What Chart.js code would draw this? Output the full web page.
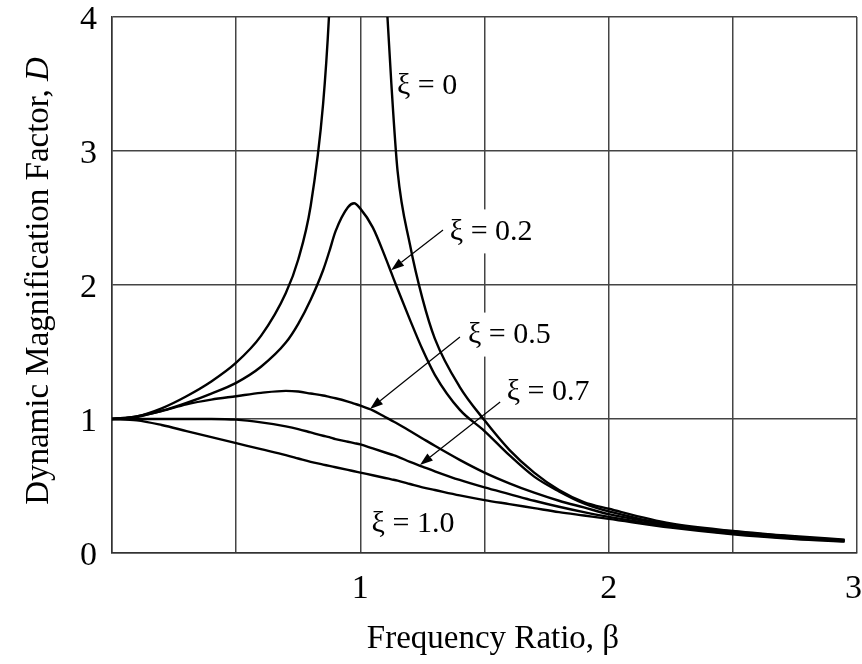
<!DOCTYPE html>
<html><head><meta charset="utf-8">
<script src="https://cdn.jsdelivr.net/npm/chart.js@4/dist/chart.umd.min.js"></script>
<style>html,body{margin:0;padding:0;background:#fff}#wrap{width:862px;height:664px;position:relative}</style>
</head><body><div id="wrap"><canvas id="c"></canvas></div>
<script>
// Frequency ratio beta (x values shared by all curves)
const beta = [0,0.1,0.2,0.3,0.4,0.5,0.6,0.7,0.75,0.8,0.85,0.875,0.9,0.95,0.975,1.0,1.05,1.1,1.125,1.15,1.2,1.25,1.3,1.4,1.5,1.6,1.7,1.8,1.9,2.0,2.25,2.5,2.75,2.95];
// Dynamic magnification factor D for each damping ratio
const xi0  = [1.0,1.02,1.08,1.17,1.28,1.42,1.62,1.94,2.19,2.59,3.35,4.05,5.2,null,null,null,null,4.3,3.5,2.85,2.30,1.90,1.60,1.24,0.99,0.77,0.60,0.47,0.38,0.33,0.22,0.165,0.125,0.10];
const xi02 = [1.0,1.015,1.06,1.12,1.19,1.27,1.39,1.57,1.71,1.89,2.11,2.25,2.40,2.58,2.61,2.57,2.43,2.21,2.09,1.97,1.74,1.52,1.33,1.07,0.91,0.73,0.57,0.46,0.37,0.31,0.21,0.16,0.12,0.095];
const xi05 = [1.0,1.02,1.06,1.11,1.145,1.17,1.195,1.21,1.205,1.19,1.175,1.165,1.155,1.13,1.115,1.10,1.065,1.015,0.99,0.965,0.91,0.855,0.80,0.695,0.60,0.52,0.45,0.39,0.34,0.29,0.21,0.155,0.12,0.093];
const xi07 = [1.0,1.0,1.0,1.0,1.0,0.995,0.975,0.945,0.925,0.90,0.875,0.865,0.85,0.83,0.82,0.81,0.78,0.75,0.735,0.72,0.68,0.645,0.61,0.545,0.49,0.44,0.39,0.345,0.305,0.27,0.20,0.145,0.11,0.09];
const xi10 = [1.0,0.99,0.955,0.91,0.865,0.82,0.775,0.73,0.705,0.68,0.66,0.65,0.64,0.62,0.61,0.60,0.58,0.56,0.55,0.54,0.515,0.49,0.47,0.43,0.395,0.365,0.335,0.305,0.28,0.255,0.19,0.14,0.105,0.085];
const seriesNames = ['ξ = 0','ξ = 0.2','ξ = 0.5','ξ = 0.7','ξ = 1.0'];
const seriesValues = [xi0, xi02, xi05, xi07, xi10];
const xTickLabels = [1, 2, 3];
const yTickLabels = [0, 1, 2, 3, 4];
const xTitle = 'Frequency Ratio, β';
const yTitleMain = 'Dynamic Magnification Factor, ';
const yTitleVar = 'D';

const SERIF = '"Liberation Serif","Times New Roman",serif';

const datasets = seriesValues.map((vals, i) => ({
  label: seriesNames[i],
  data: beta.map((b, j) => ({x: b, y: vals[j]})),
  borderColor: '#000',
  borderWidth: 2.4,
  pointRadius: 0,
  fill: false,
  cubicInterpolationMode: 'monotone',
  spanGaps: false
}));

// label positions (data coordinates) and arrows
const annotations = [
  {text: seriesNames[0], x: 1.269, y: 3.49},
  {text: seriesNames[1], x: 1.527, y: 2.40, bg: true, arrow: [1.333, 2.41, 1.124, 2.11]},
  {text: seriesNames[2], x: 1.60, y: 1.63, bg: true, arrow: [1.401, 1.612, 1.039, 1.075]},
  {text: seriesNames[3], x: 1.756, y: 1.21, arrow: [1.563, 1.127, 1.240, 0.657]},
  {text: seriesNames[4], x: 1.212, y: 0.22}
];

const overlay = {
  id: 'overlay',
  afterDatasetsDraw(chart) {
    const ctx = chart.ctx, xs = chart.scales.x, ys = chart.scales.y;
    ctx.save();
    ctx.font = '30px ' + SERIF;
    ctx.textAlign = 'center';
    ctx.textBaseline = 'middle';
    annotations.forEach(a => {
      const px = xs.getPixelForValue(a.x), py = ys.getPixelForValue(a.y);
      const w = ctx.measureText(a.text).width;
      if (a.bg) {
        ctx.fillStyle = '#fff';
        ctx.fillRect(px - w/2 - 4, py - 22, w + 8, 44);
      }
      ctx.fillStyle = '#000';
      ctx.fillText(a.text, px, py + 1);
      if (a.arrow) {
        const x1 = xs.getPixelForValue(a.arrow[0]), y1 = ys.getPixelForValue(a.arrow[1]);
        const x2 = xs.getPixelForValue(a.arrow[2]), y2 = ys.getPixelForValue(a.arrow[3]);
        const ang = Math.atan2(y2 - y1, x2 - x1);
        const L = 13, H = 4.5;
        const bx = x2 - L*Math.cos(ang), by = y2 - L*Math.sin(ang);
        ctx.strokeStyle = '#000';
        ctx.lineWidth = 1.2;
        ctx.beginPath(); ctx.moveTo(x1, y1); ctx.lineTo(bx, by); ctx.stroke();
        ctx.beginPath();
        ctx.moveTo(x2, y2);
        ctx.lineTo(bx + H*Math.sin(ang), by - H*Math.cos(ang));
        ctx.lineTo(bx - H*Math.sin(ang), by + H*Math.cos(ang));
        ctx.closePath(); ctx.fill();
      }
    });
    // axis titles
    ctx.font = '33px ' + SERIF;
    ctx.fillStyle = '#000';
    ctx.textAlign = 'center';
    ctx.fillText(xTitle, 493, 639);
    ctx.translate(39, 281);
    ctx.rotate(-Math.PI/2);
    ctx.font = '33px ' + SERIF;
    const w1 = ctx.measureText(yTitleMain).width;
    ctx.font = 'italic 33px ' + SERIF;
    const w2 = ctx.measureText(yTitleVar).width;
    ctx.textAlign = 'left';
    ctx.font = '33px ' + SERIF;
    ctx.fillText(yTitleMain, -(w1 + w2)/2, 0);
    ctx.font = 'italic 33px ' + SERIF;
    ctx.fillText(yTitleVar, -(w1 + w2)/2 + w1, 0);
    ctx.restore();
  }
};

new Chart(document.getElementById('c'), {
  type: 'line',
  data: {datasets},
  plugins: [overlay],
  options: {
    responsive: true,
    maintainAspectRatio: false,
    animation: false,
    devicePixelRatio: 1,
    layout: {padding: {top: 17, right: 5, left: 0, bottom: 0}},
    plugins: {legend: {display: false}, tooltip: {enabled: false}},
    scales: {
      x: {
        type: 'linear', min: 0, max: 3,
        afterBuildTicks: s => { s.ticks = [0,0.5,1,1.5,2,2.5,3].map(v => ({value: v})); },
        ticks: {
          autoSkip: false, maxRotation: 0, padding: 16,
          color: '#000', font: {family: SERIF, size: 34},
          callback: v => xTickLabels.includes(v) ? (v === 3 ? '3\u2009' : String(v)) : ''
        },
        grid: {color: '#444', lineWidth: 1.5, drawTicks: false},
        border: {color: '#333', width: 1.5},
        afterFit: s => { s.height = 111; s.paddingLeft = 0; s.paddingRight = 0; }
      },
      y: {
        type: 'linear', min: 0, max: 4,
        afterBuildTicks: s => { s.ticks = yTickLabels.map(v => ({value: v})); },
        ticks: {
          padding: 15, labelOffset: 3, color: '#000', font: {family: SERIF, size: 34},
          callback: v => String(v)
        },
        grid: {color: '#444', lineWidth: 1.5, drawTicks: false},
        border: {color: '#333', width: 1.5},
        afterFit: s => { s.width = 112; s.paddingTop = 0; s.paddingBottom = 0; }
      }
    }
  }
});
</script>
</body></html>
